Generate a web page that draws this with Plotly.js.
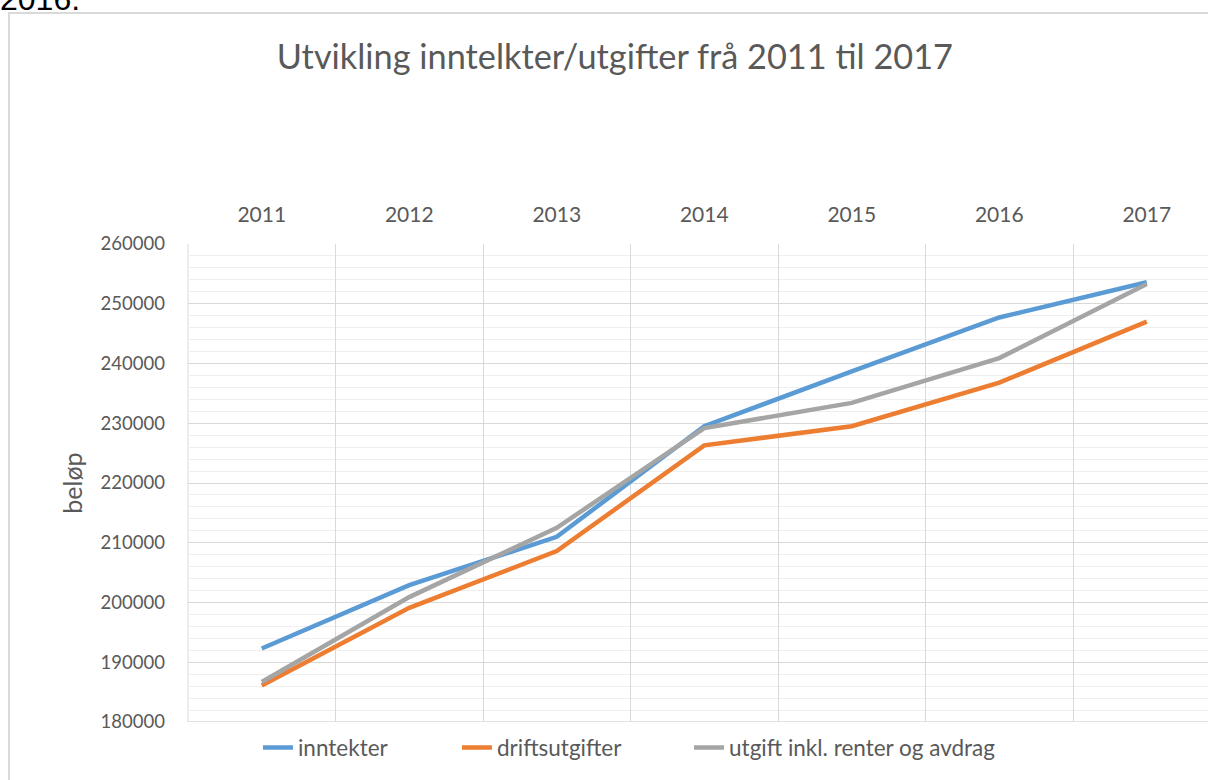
<!DOCTYPE html>
<html>
<head>
<meta charset="utf-8">
<script src="https://cdn.plot.ly/plotly-3.0.1.min.js"></script>
<style>
  html, body { margin: 0; padding: 0; background: #ffffff; overflow: hidden; }
  #frame { position: absolute; left: 8px; top: 12px; width: 1300px; height: 900px;
           border: 2px solid #d9d9d9; box-sizing: border-box; }
  #cut { position: absolute; left: 0px; top: -17px; font-family: "Liberation Sans", Arial, sans-serif;
         font-size: 32px; line-height: 32px; color: #000; white-space: nowrap; }
  #chart { position: absolute; left: 0; top: 0; width: 1208px; height: 780px; }
</style>
</head>
<body>
<div id="cut">2016.</div>
<div id="frame"></div>
<div id="chart"></div>
<script>
const years = ['2011', '2012', '2013', '2014', '2015', '2016', '2017'];
const inntekter = [192300, 202900, 211000, 229500, 238700, 247700, 253600];
const driftsutgifter = [186100, 199100, 208600, 226300, 229500, 236800, 247000];
const utgiftInkl = [186700, 200900, 212500, 229200, 233400, 240900, 253300];
const seriesNames = ['inntekter', 'driftsutgifter', 'utgift inkl. renter og avdrag'];
const seriesColors = ['#5B9BD5', '#ED7D31', '#A5A5A5'];
const yTicks = [180000, 190000, 200000, 210000, 220000, 230000, 240000, 250000, 260000];

const font = 'Lato, "Open Sans", sans-serif';
const txt = '#595959';
const legendIds = ['legend', 'legend2', 'legend3'];

const data = [inntekter, driftsutgifter, utgiftInkl].map((vals, i) => ({
  type: 'scatter', mode: 'lines', x: years, y: vals, name: seriesNames[i],
  legend: legendIds[i],
  line: { color: seriesColors[i], width: 4.5 }, hoverinfo: 'skip'
}));

const legendBase = { orientation: 'h', xanchor: 'left', y: -0.054, yanchor: 'middle',
  font: { family: font, size: 22.5, color: txt }, bgcolor: 'rgba(0,0,0,0)', borderwidth: 0 };

const layout = {
  width: 1208, height: 780,
  paper_bgcolor: 'rgba(0,0,0,0)', plot_bgcolor: 'rgba(0,0,0,0)',
  margin: { l: 188, r: 0, t: 244, b: 58 },
  title: { text: 'Utvikling inntelkter/utgifter frå 2011 til 2017',
           font: { family: font, size: 34.3, color: txt }, x: 0.509, xanchor: 'center', y: 0.927, yanchor: 'middle' },
  xaxis: {
    type: 'category', side: 'top', range: [-0.5, 6.415],
    tickson: 'boundaries', ticks: '', showgrid: true, gridcolor: '#d9d9d9', gridwidth: 1,
    showline: false, zeroline: false, fixedrange: true,
    tickfont: { family: font, size: 21, color: txt }, ticklabelstandoff: 17
  },
  yaxis: {
    range: [180000, 260000], tickvals: yTicks, ticktext: yTicks.map(String),
    showgrid: true, gridcolor: '#d9d9d9', gridwidth: 1, zeroline: false, showline: false, ticks: '',
    minor: { dtick: 2000, showgrid: true, gridcolor: '#efefef', gridwidth: 1, ticks: '' },
    tickfont: { family: font, size: 18.5, color: txt }, ticklabelstandoff: 22,
    title: { text: 'beløp', font: { family: font, size: 25, color: txt }, standoff: 10 },
    automargin: false, fixedrange: true
  },
  showlegend: true,
  legend: Object.assign({}, legendBase, { x: 0.0686 }),
  legend2: Object.assign({}, legendBase, { x: 0.2637 }),
  legend3: Object.assign({}, legendBase, { x: 0.4912 }),
  shapes: [
    { type: 'line', xref: 'paper', yref: 'y', x0: 0, x1: 1, y0: 180000, y1: 180000, line: { color: '#d9d9d9', width: 1.5 }, layer: 'below' },
    { type: 'line', xref: 'paper', yref: 'paper', x0: 0, x1: 0, y0: 0, y1: 1, line: { color: '#d9d9d9', width: 1 }, layer: 'below' }
  ]
};

Plotly.newPlot('chart', data, layout, { displayModeBar: false, staticPlot: true });
</script>
</body>
</html>
